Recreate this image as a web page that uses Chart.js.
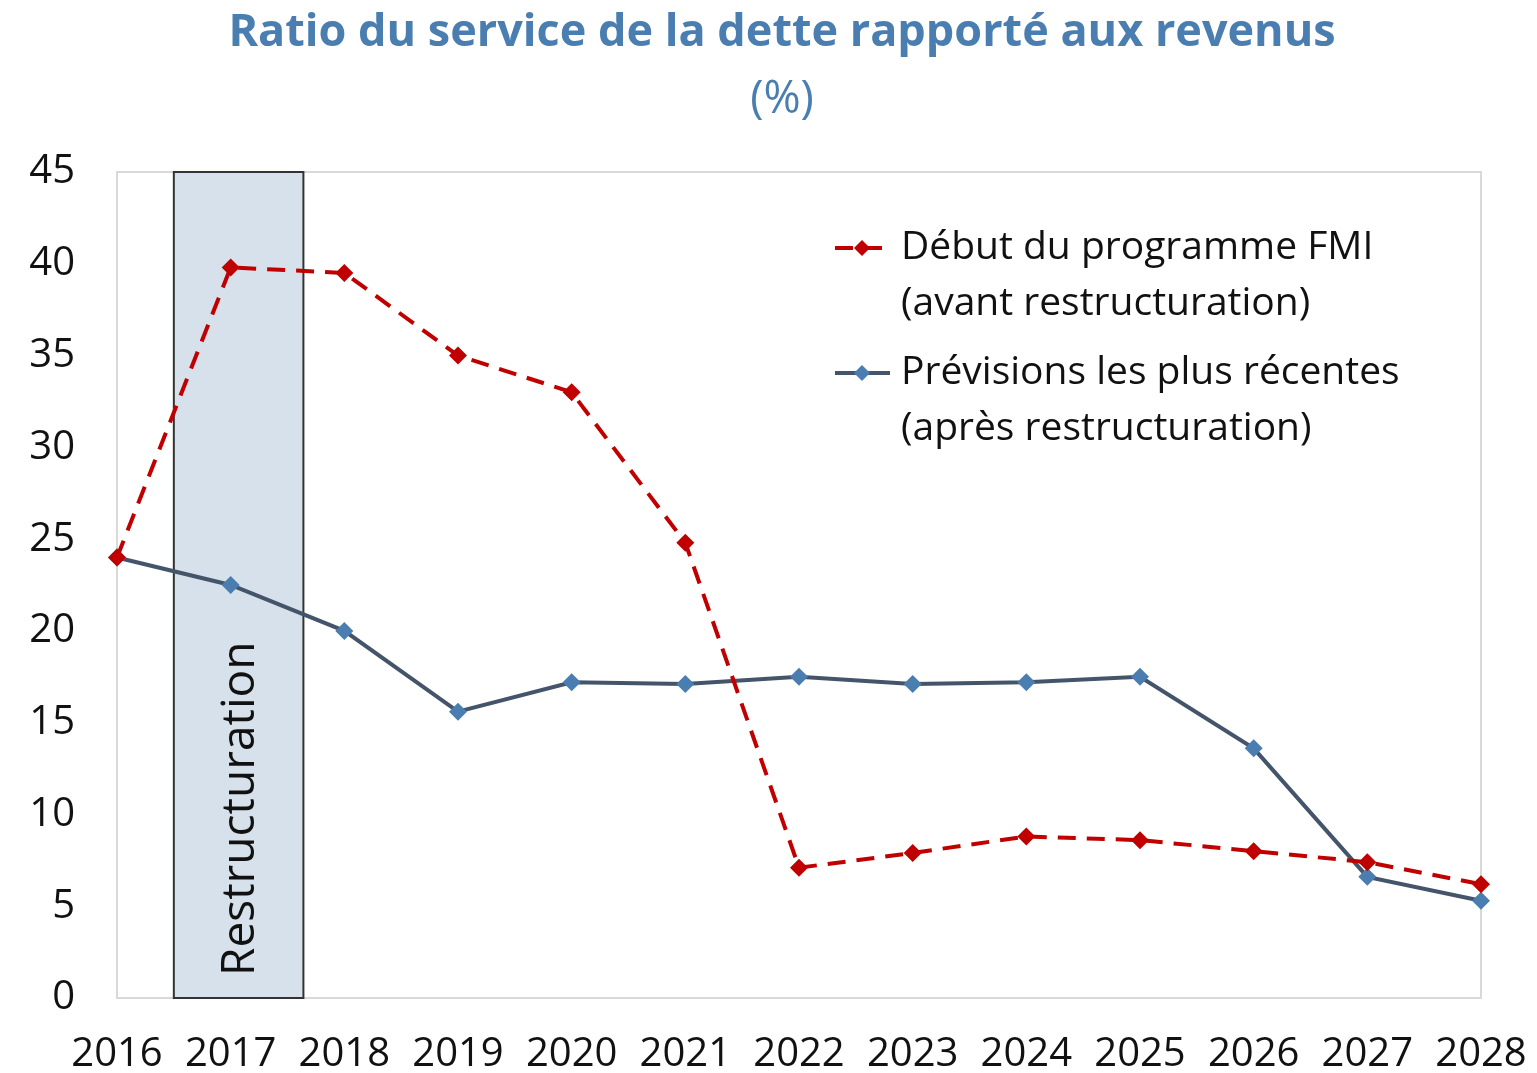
<!DOCTYPE html>
<html>
<head>
<meta charset="utf-8">
<script src="https://cdn.jsdelivr.net/npm/chart.js@4.4.1/dist/chart.umd.min.js"></script>
<style>
  html, body { margin: 0; padding: 0; background: #fff; }
  #wrap { width: 1537px; height: 1073px; }
</style>
</head>
<body>
<div id="wrap"><canvas id="ratioChart"></canvas></div>
<script>
    // Données
    var annees = ["2016", "2017", "2018", "2019", "2020", "2021", "2022", "2023", "2024", "2025", "2026", "2027", "2028"];
    var avantRestructuration = [24.0, 39.8, 39.5, 35.0, 33.0, 24.8, 7.1, 7.9, 8.8, 8.6, 8.0, 7.4, 6.2];
    var apresRestructuration = [24.0, 22.5, 20.0, 15.6, 17.2, 17.1, 17.5, 17.1, 17.2, 17.5, 13.6, 6.6, 5.3];
    var titre = "Ratio du service de la dette rapporté aux revenus";
    var sousTitre = "(%)";
    var labelsLegende = [
        ["Début du programme FMI", "(avant restructuration)"],
        ["Prévisions les plus récentes", "(après restructuration)"]
    ];
    // période de restructuration (en index de catégorie)
    var restructuration = { debut: 0.5, fin: 1.64, texte: "Restructuration" };

    var police = "'Open Sans', sans-serif";

    // titre centré sur la figure
    var titreFigure = {
        id: "titreFigure",
        afterDraw: function (chart) {
            var ctx = chart.ctx;
            ctx.save();
            ctx.fillStyle = "#4a7eb0";
            ctx.textAlign = "center";
            ctx.textBaseline = "middle";
            ctx.font = "bold 45px " + police;
            ctx.fillText(titre, 782, 33);
            ctx.font = "45px " + police;
            ctx.fillText(sousTitre, 782, 100);
            ctx.restore();
        }
    };

    // fond grisé + cadre de la zone de tracé
    var zoneRestructuration = {
        id: "zoneRestructuration",
        beforeDatasetsDraw: function (chart) {
            var ctx = chart.ctx, a = chart.chartArea, x = chart.scales.x;
            ctx.save();
            ctx.strokeStyle = "#d9d9d9";
            ctx.lineWidth = 2;
            ctx.strokeRect(a.left, a.top, a.right - a.left, a.bottom - a.top);
            var x1 = x.getPixelForValue(restructuration.debut);
            var x2 = x.getPixelForValue(restructuration.fin);
            ctx.fillStyle = "#d6e1eb";
            ctx.fillRect(x1, a.top, x2 - x1, a.bottom - a.top);
            ctx.strokeStyle = "#333333";
            ctx.strokeRect(x1, a.top, x2 - x1, a.bottom - a.top);
            ctx.translate((x1 + x2) / 2 + 2, a.bottom - 22);
            ctx.rotate(-Math.PI / 2);
            ctx.fillStyle = "#111111";
            ctx.font = "46px " + police;
            ctx.textAlign = "left";
            ctx.textBaseline = "middle";
            ctx.fillText(restructuration.texte, 0, 0);
            ctx.restore();
        }
    };

    // légende sur deux lignes
    var legendeDeuxLignes = {
        id: "legendeDeuxLignes",
        afterDraw: function (chart) {
            var ctx = chart.ctx;
            var yDebut = [248, 373];
            ctx.save();
            chart.data.datasets.forEach(function (ds, i) {
                var y = yDebut[i];
                ctx.strokeStyle = ds.borderColor;
                ctx.lineWidth = 4;
                ctx.setLineDash(ds.borderDash || []);
                ctx.beginPath();
                ctx.moveTo(835, y);
                ctx.lineTo(890, y);
                ctx.stroke();
                ctx.setLineDash([]);
                ctx.fillStyle = ds.pointBackgroundColor;
                ctx.beginPath();
                ctx.moveTo(862, y - 8);
                ctx.lineTo(870, y);
                ctx.lineTo(862, y + 8);
                ctx.lineTo(854, y);
                ctx.closePath();
                ctx.fill();
                ctx.fillStyle = "#111111";
                ctx.font = "39px " + police;
                ctx.textAlign = "left";
                ctx.textBaseline = "middle";
                labelsLegende[i].forEach(function (l, j) {
                    ctx.fillText(l, 901, y + j * 56);
                });
            });
            ctx.restore();
        }
    };

    var ctx = document.getElementById("ratioChart").getContext("2d");
    var chart = new Chart(ctx, {
        type: "line",
        data: {
            labels: annees,
            datasets: [
                {
                    label: labelsLegende[0].join(" "),
                    data: avantRestructuration,
                    borderColor: "#c00000",
                    borderWidth: 4,
                    borderDash: [18, 11],
                    pointStyle: "rectRot",
                    pointRadius: 9,
                    pointBackgroundColor: "#c00000",
                    pointBorderWidth: 0,
                    fill: false
                },
                {
                    label: labelsLegende[1].join(" "),
                    data: apresRestructuration,
                    borderColor: "#44546a",
                    borderWidth: 4,
                    pointStyle: "rectRot",
                    pointRadius: 9,
                    pointBackgroundColor: "#4a7eb0",
                    pointBorderWidth: 0,
                    fill: false
                }
            ]
        },
        options: {
            responsive: true,
            maintainAspectRatio: false,
            animation: false,
            layout: { padding: { left: 0, right: 56, top: 172, bottom: 0 } },
            plugins: {
                legend: { display: false },
                tooltip: { enabled: false }
            },
            scales: {
                x: {
                    offset: false,
                    grid: { display: false, drawTicks: false },
                    border: { display: false },
                    ticks: {
                        color: "#111111",
                        font: { family: police, size: 40 },
                        padding: 33,
                        maxRotation: 0,
                        autoSkip: false
                    },
                    afterFit: function (s) {
                        s.height = 75;
                        s.paddingLeft = 0;
                        s.paddingRight = 0;
                    }
                },
                y: {
                    min: 0,
                    max: 45,
                    grid: { display: false, drawTicks: false },
                    border: { display: false },
                    ticks: {
                        stepSize: 5,
                        color: "#111111",
                        font: { family: police, size: 40 },
                        padding: 42
                    },
                    afterFit: function (s) { s.width = 117; }
                }
            }
        },
        plugins: [zoneRestructuration, legendeDeuxLignes, titreFigure]
    });
</script>
</body>
</html>
